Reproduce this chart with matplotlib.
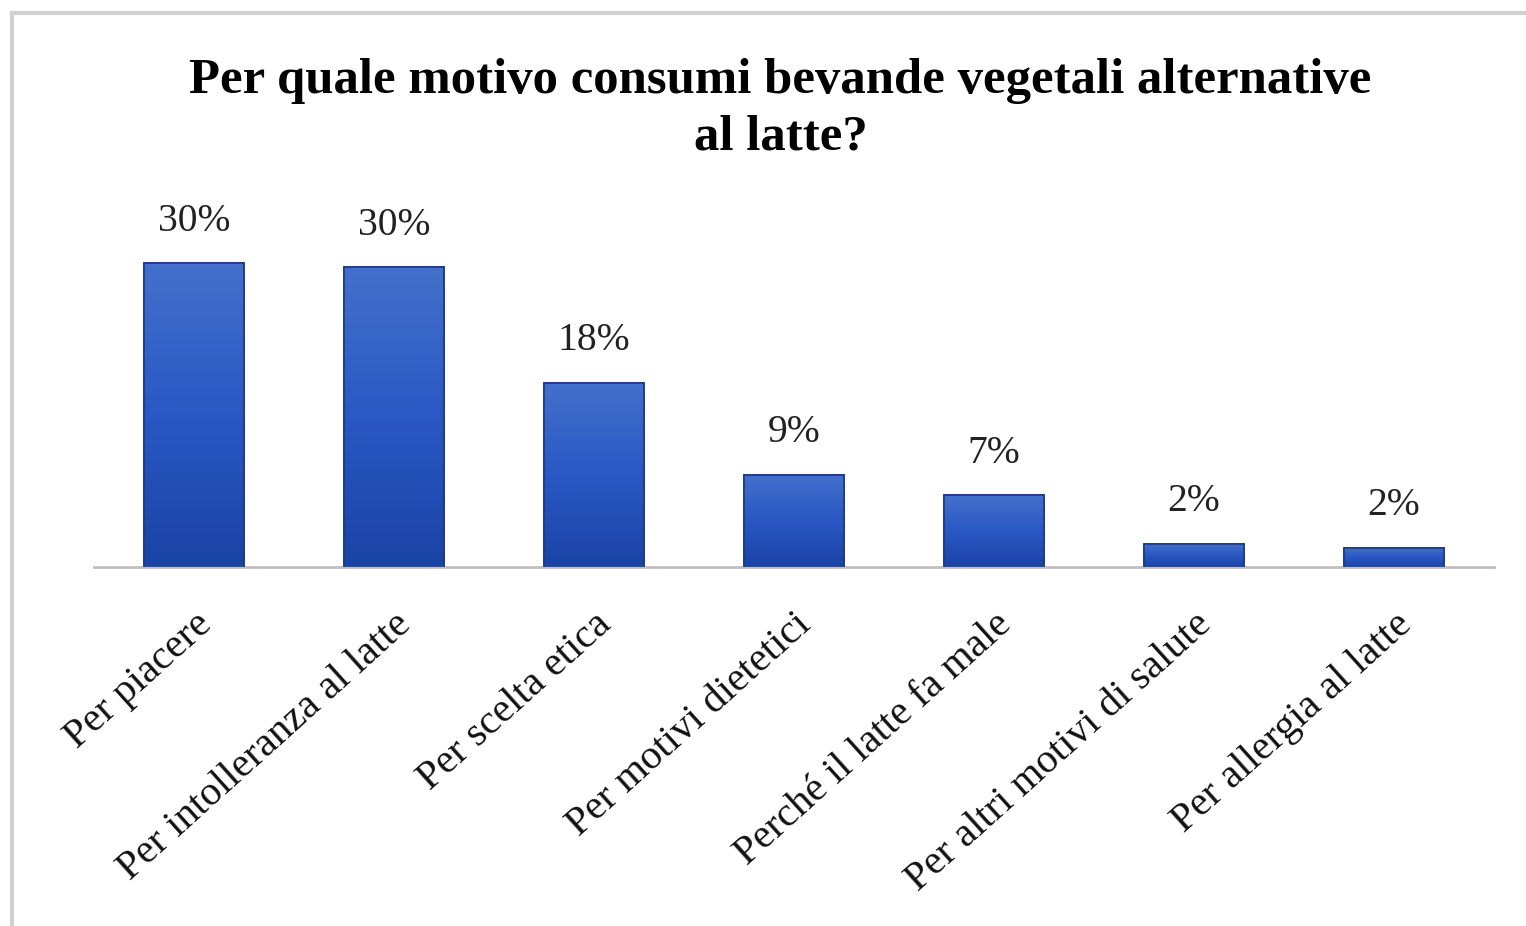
import numpy as np
import matplotlib.pyplot as plt
from matplotlib.colors import LinearSegmentedColormap
from matplotlib.lines import Line2D

categories = ["Per piacere", "Per intolleranza al latte", "Per scelta etica",
              "Per motivi dietetici", "Perché il latte fa male",
              "Per altri motivi di salute", "Per allergia al latte"]
values = [30.0, 29.6, 18.2, 9.1, 7.1, 2.3, 1.9]
labels = ["30%", "30%", "18%", "9%", "7%", "2%", "2%"]

plt.rcParams['font.family'] = ['Liberation Serif', 'DejaVu Serif']

fig = plt.figure(figsize=(15.26, 9.26), dpi=100)
ax = fig.add_axes([0.0616, 0.3877, 0.9174, 0.4071])

# light gray frame (only top and left visible, picture is cropped)
fig.add_artist(Line2D([0.0079, 0.0079], [0, 0.986], transform=fig.transFigure,
                      color='#d0d0d0', lw=3))
fig.add_artist(Line2D([0.0079, 1.0], [0.986, 0.986], transform=fig.transFigure,
                      color='#d0d0d0', lw=3))

x = np.arange(len(categories))
bars = ax.bar(x, values, width=0.5, color='#2f5bbf', edgecolor='#1b3a86', linewidth=1.2, zorder=2)

# vertical gradient inside each bar
cmap = LinearSegmentedColormap.from_list('blu', ['#1a43a6', '#2a58c4', '#4470cc'])
grad = np.linspace(0, 1, 256).reshape(-1, 1)
for b in bars:
    bx, by = b.get_x(), b.get_y()
    w, h = b.get_width(), b.get_height()
    im = ax.imshow(grad, cmap=cmap, origin='lower', aspect='auto',
                   extent=[bx, bx + w, by, by + h], zorder=2.5)
    im.set_clip_path(b)
    ax.bar(bx + w / 2, h, width=w, fill=False, edgecolor='#1b3a86', linewidth=1.2, zorder=3)

for xi, v, lab in zip(x, values, labels):
    ax.text(xi, v + 2.3, lab, ha='center', va='bottom', fontsize=28.5, color='#222222')

ax.set_xlim(-0.5, 6.5)
ax.set_ylim(0, 37.2)
ax.set_yticks([])
for s in ['top', 'right', 'left']:
    ax.spines[s].set_visible(False)
ax.spines['bottom'].set_color('#bfbfbf')
ax.spines['bottom'].set_linewidth(2)
ax.set_xticks(x)
ax.set_xticklabels(categories, rotation=42, ha='right', rotation_mode='anchor',
                   fontsize=29.5, color='#111111')
ax.tick_params(axis='x', length=0, pad=28)

fig.text(0.5115, 0.882, "Per quale motivo consumi bevande vegetali alternative\nal latte?",
         ha='center', va='center', fontsize=36.5, fontweight='bold', linespacing=1.3)

fig.savefig('out.png', dpi=100)
